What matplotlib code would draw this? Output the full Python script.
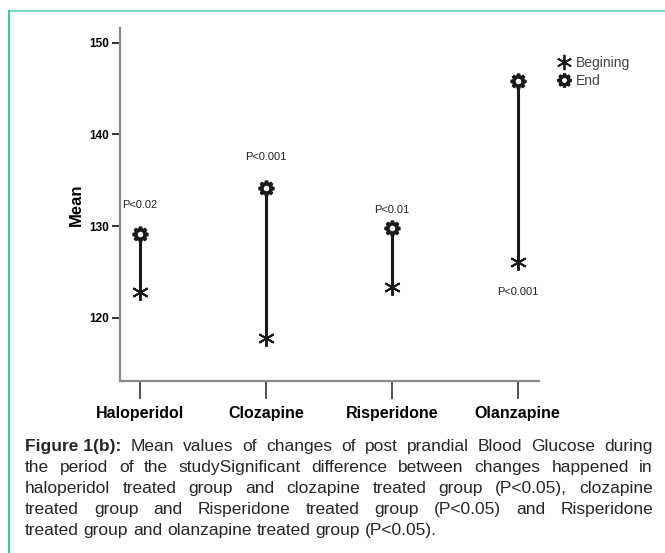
import matplotlib
matplotlib.use("Agg")
import matplotlib.pyplot as plt
from matplotlib import font_manager
from matplotlib.lines import Line2D

drugs = ["Haloperidol", "Clozapine", "Risperidone", "Olanzapine"]
begin_mean = [122.8, 117.8, 123.3, 126.1]
end_mean = [129.1, 134.1, 129.8, 145.8]
p_labels = ["P<0.02", "P<0.001", "P<0.01", "P<0.001"]
yticks = [120, 130, 140, 150]

caption_head = "Figure 1(b):"
caption_lines = [
    "Mean values of changes of post prandial Blood Glucose during",
    "the period of the studySignificant difference between changes happened in",
    "haloperidol treated group and clozapine treated group (P<0.05), clozapine",
    "treated group and Risperidone treated group (P<0.05) and Risperidone",
    "treated group and olanzapine treated group (P<0.05).",
]

installed = {f.name for f in font_manager.fontManager.ttflist}
narrow_names = [n for n in ["Liberation Sans Narrow", "DejaVu Sans Condensed"] if n in installed]
NARROW = narrow_names + ["Liberation Sans", "DejaVu Sans"]
SANS = ["Liberation Sans", "DejaVu Sans"]
W, H = 665, 553

fig = plt.figure(figsize=(W / 100, H / 100), dpi=100)
fig.patch.set_facecolor("white")

# teal frame on the top and left edge
fig.add_artist(Line2D([9 / W, 1], [1 - 11 / H, 1 - 11 / H], color="#7fd8c8", lw=1.6))
fig.add_artist(Line2D([9 / W, 9 / W], [0, 1 - 11 / H], color="#4cbfa8", lw=1.6))

ax = fig.add_axes([120 / W, (H - 381) / H, (539 - 120) / W, (381 - 28) / H])
x = list(range(len(drugs)))
ax.vlines(x, begin_mean, end_mean, color="#1a1a1a", lw=2.2, zorder=2)
ax.plot(x, begin_mean, ls="none", marker=(6, 2, 0), ms=12, mew=1.4,
        color="#1a1a1a", zorder=3)
ax.plot(x, end_mean, ls="none", marker=(8, 1, 0), ms=11, mew=2.3,
        mfc="white", mec="#1a1a1a", zorder=4)

# p-value labels sit above the end point, or below the start for Olanzapine
label_offset = [21, 23, 13, -22]
for xi, lab, off, b, e in zip(x, p_labels, label_offset, begin_mean, end_mean):
    anchor = e if off > 0 else b
    ax.annotate(lab, (xi, anchor), xytext=(0, off), textcoords="offset points",
                ha="center", va="center", fontsize=8, family=SANS, color="#222")

ax.set_xlim(-0.16, 3.17)
ax.set_ylim(113.1, 151.6)
ax.set_yticks(yticks)
ax.set_yticklabels([str(v) for v in yticks], fontsize=8.5, fontweight="bold",
                   family=NARROW)
ax.set_xticks(x)
ax.set_xticklabels(drugs, fontsize=11.5, fontweight="bold", family=NARROW)
ax.tick_params(axis="y", length=6, width=1.3, color="#222", pad=2)
ax.tick_params(axis="x", length=13, width=1.3, color="#444", pad=5)
for side in ["top", "right"]:
    ax.spines[side].set_visible(False)
for side in ["left", "bottom"]:
    ax.spines[side].set_color("#8a8a8a")
    ax.spines[side].set_linewidth(1.6)
ax.set_ylabel("Mean", fontsize=12, fontweight="bold", family=SANS, labelpad=4)

handles = [
    Line2D([], [], ls="none", marker=(6, 2, 0), ms=11, mew=1.3, color="#1a1a1a"),
    Line2D([], [], ls="none", marker=(8, 1, 0), ms=10, mew=2.1, mfc="white",
           mec="#1a1a1a"),
]
fig.legend(handles, ["Begining", "End"], loc="upper left",
           bbox_to_anchor=(545 / W, 1 - 43 / H), frameon=False,
           prop={"family": NARROW, "size": 10}, handlelength=1.0,
           handletextpad=0.3, labelspacing=0.3, labelcolor="#444")

# justified caption below the chart
fig.canvas.draw()
renderer = fig.canvas.get_renderer()
left_px, right_px = 25, 653
fsize = 12.5


def word_width(word, weight="normal"):
    t = fig.text(0, 0, word, fontsize=fsize, family=SANS, fontweight=weight)
    w = t.get_window_extent(renderer).width
    t.remove()
    return w


space = word_width("a b") - word_width("ab")
for i, line in enumerate(caption_lines):
    y_px = 451 + 21 * i
    words = [(w, "normal") for w in line.split()]
    if i == 0:
        words = [(caption_head, "bold")] + words
    widths = [word_width(w, wt) for w, wt in words]
    if i == len(caption_lines) - 1:
        gap = space
    else:
        gap = (right_px - left_px - sum(widths)) / (len(words) - 1)
    xpos = left_px
    for (w, wt), wd in zip(words, widths):
        fig.text(xpos / W, 1 - y_px / H, w, fontsize=fsize, family=SANS,
                 fontweight=wt, va="baseline", ha="left", color="#262626")
        xpos += wd + gap

fig.savefig("out.png", dpi=100)
